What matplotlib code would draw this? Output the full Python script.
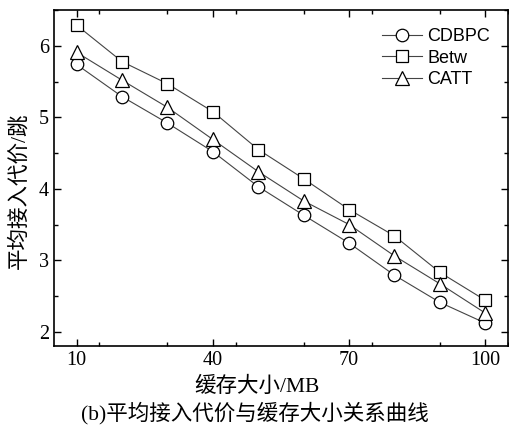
import matplotlib.pyplot as plt
from matplotlib.ticker import MultipleLocator

plt.rcParams['font.family'] = ['Liberation Serif', 'Noto Sans CJK SC']

# cache size (MB)
cache_mb = [10, 20, 30, 40, 50, 60, 70, 80, 90, 100]

# average access cost (hops) for each scheme
cdbpc = [5.74, 5.29, 4.92, 4.52, 4.03, 3.63, 3.24, 2.79, 2.41, 2.12]
betw = [6.29, 5.78, 5.47, 5.08, 4.55, 4.14, 3.71, 3.34, 2.83, 2.44]
catt = [5.91, 5.52, 5.14, 4.69, 4.24, 3.83, 3.50, 3.06, 2.67, 2.26]

series_names = ['CDBPC', 'Betw', 'CATT']
markers = ['o', 's', '^']

fig = plt.figure(figsize=(5.09, 4.25), dpi=100)
ax = fig.add_axes([0.106, 0.186, 0.892, 0.79])

for vals, name, mk in zip([cdbpc, betw, catt], series_names, markers):
    ax.plot(cache_mb, vals, color='#444444', linewidth=0.8, marker=mk,
            markersize=10 if mk == '^' else 9, markerfacecolor='white',
            markeredgecolor='black', markeredgewidth=0.9, label=name)

ax.set_xlim(5, 105)
ax.set_ylim(1.8, 6.5)
ax.set_xticks([10, 40, 70, 100])
ax.xaxis.set_minor_locator(MultipleLocator(15))
ax.yaxis.set_major_locator(MultipleLocator(1))
ax.yaxis.set_minor_locator(MultipleLocator(0.5))
ax.tick_params(which='both', direction='in', top=True, right=True,
               labelsize=14.5, width=1.0)
ax.tick_params(which='major', length=5)
ax.tick_params(which='minor', length=3)
for sp in ax.spines.values():
    sp.set_linewidth(1.2)

ax.set_ylabel('平均接入代价/跳', fontsize=15.5)
ax.yaxis.set_label_coords(-0.054, 0.461)
ax.set_xlabel('缓存大小/MB', fontsize=15.5)
ax.xaxis.set_label_coords(0.447, -0.092)

leg = ax.legend(loc='upper right', frameon=False,
                prop={'family': 'Liberation Sans', 'size': 13},
                handlelength=2.2, handletextpad=0.3, labelspacing=0.25,
                borderaxespad=0.6)

fig.text(0.5, 0.028, '(b)平均接入代价与缓存大小关系曲线', ha='center',
         va='center', fontsize=15.5)

fig.savefig('out.png', dpi=100)
